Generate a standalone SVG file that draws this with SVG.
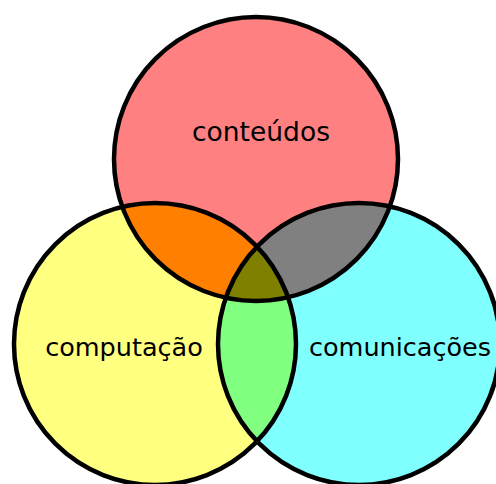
<svg xmlns="http://www.w3.org/2000/svg" width="496" height="484" viewBox="0 0 496 484">
<style>
.lbl{font-family:"DejaVu Sans","Liberation Sans",sans-serif;font-size:25.5px;fill:#000;text-anchor:middle}
.edge{fill:none;stroke:#000;stroke-width:4.5}
</style>
<defs>
<clipPath id="cR"><circle cx="256" cy="159" r="142"/></clipPath>
<clipPath id="cY"><circle cx="155" cy="344" r="141"/></clipPath>
<clipPath id="cC"><circle cx="359" cy="344" r="141"/></clipPath>
</defs>
<rect width="496" height="484" fill="#fff"/>
<g id="conteudos">
<circle cx="256" cy="159" r="142" fill="#FF8080"/>
</g>
<g id="computacao">
<circle cx="155" cy="344" r="141" fill="#FFFF80"/>
</g>
<g id="comunicacoes">
<circle cx="359" cy="344" r="141" fill="#80FFFF"/>
</g>
<g id="overlaps">
<g clip-path="url(#cY)"><circle cx="256" cy="159" r="142" fill="#FF8000"/></g>
<g clip-path="url(#cC)"><circle cx="256" cy="159" r="142" fill="#808080"/></g>
<g clip-path="url(#cC)"><circle cx="155" cy="344" r="141" fill="#80FF80"/></g>
<g clip-path="url(#cR)"><g clip-path="url(#cC)"><circle cx="155" cy="344" r="141" fill="#808000"/></g></g>
</g>
<g id="outlines">
<circle class="edge" cx="256" cy="159" r="142"/>
<circle class="edge" cx="155" cy="344" r="141"/>
<circle class="edge" cx="359" cy="344" r="141"/>
</g>
<g id="labels">
<text class="lbl" x="261" y="141" style="font-size:26.5px">conteúdos</text>
<text class="lbl" x="124" y="356">computação</text>
<text class="lbl" x="400" y="356">comunicações</text>
</g>
</svg>
